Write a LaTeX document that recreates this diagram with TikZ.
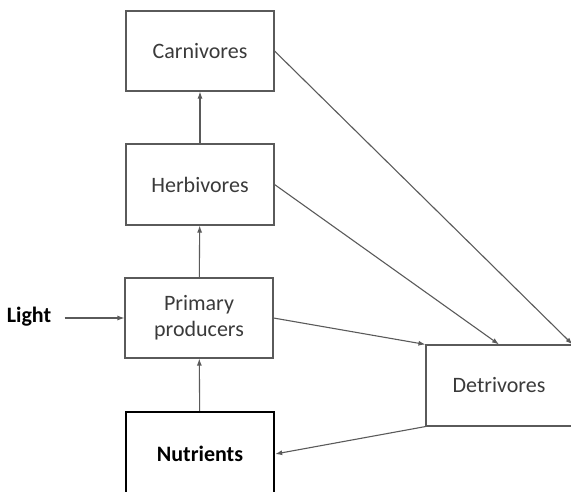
\documentclass[tikz,border=0pt]{standalone}
\usepackage{fontspec}
\setmainfont{Carlito}
\usetikzlibrary{arrows.meta}
\definecolor{linegray}{HTML}{5A5A5A}
\definecolor{textgray}{HTML}{3A3A3A}
\begin{document}
\begin{tikzpicture}[x=1pt,y=-1pt,
    box/.style={draw=linegray,line width=1.1pt,rectangle,minimum width=148pt,minimum height=80pt,
      align=center,text=textgray,font=\fontsize{22}{26}\selectfont},
    flow/.style={draw=linegray,line width=1.1pt,-{Latex[length=7pt,width=5pt]}}]
        \useasboundingbox (0,0) rectangle (571,491);
        % Food web compartments
        \node[box] (carniv) at (200,51) {Carnivores};
        \node[box,minimum height=81pt] (herbiv) at (200,184.5) {Herbivores};
        \node[box] (primary) at (199,318) {Primary\\producers};
        \node[box,draw=black,line width=2.4pt,minimum height=84pt,text=black,font=\fontsize{22}{26}\selectfont\bfseries] (nutr) at (200,454) {Nutrients};
        \node[box,minimum width=146pt,minimum height=81pt] (detriv) at (499,385.5) {Detrivores};
        \node[text=black,font=\fontsize{22}{26}\selectfont\bfseries] (light) at (29,317) {Light};
        \draw[flow] (light.east) ++(10,1) coordinate (lightend) -- (primary.west);
        \draw[flow] (nutr) -- (primary);
        \draw[flow] (primary) -- (herbiv);
        \draw[flow] (herbiv) -- (carniv);
        \draw[flow] (carniv.east) -- (detriv.north east);
        \draw[flow] (herbiv.east) -- (detriv.north);
        \draw[flow] (primary.east) -- (detriv.north west);
        \draw[flow] (detriv.south west) -- (nutr.east);
    \end{tikzpicture}
\end{document}
